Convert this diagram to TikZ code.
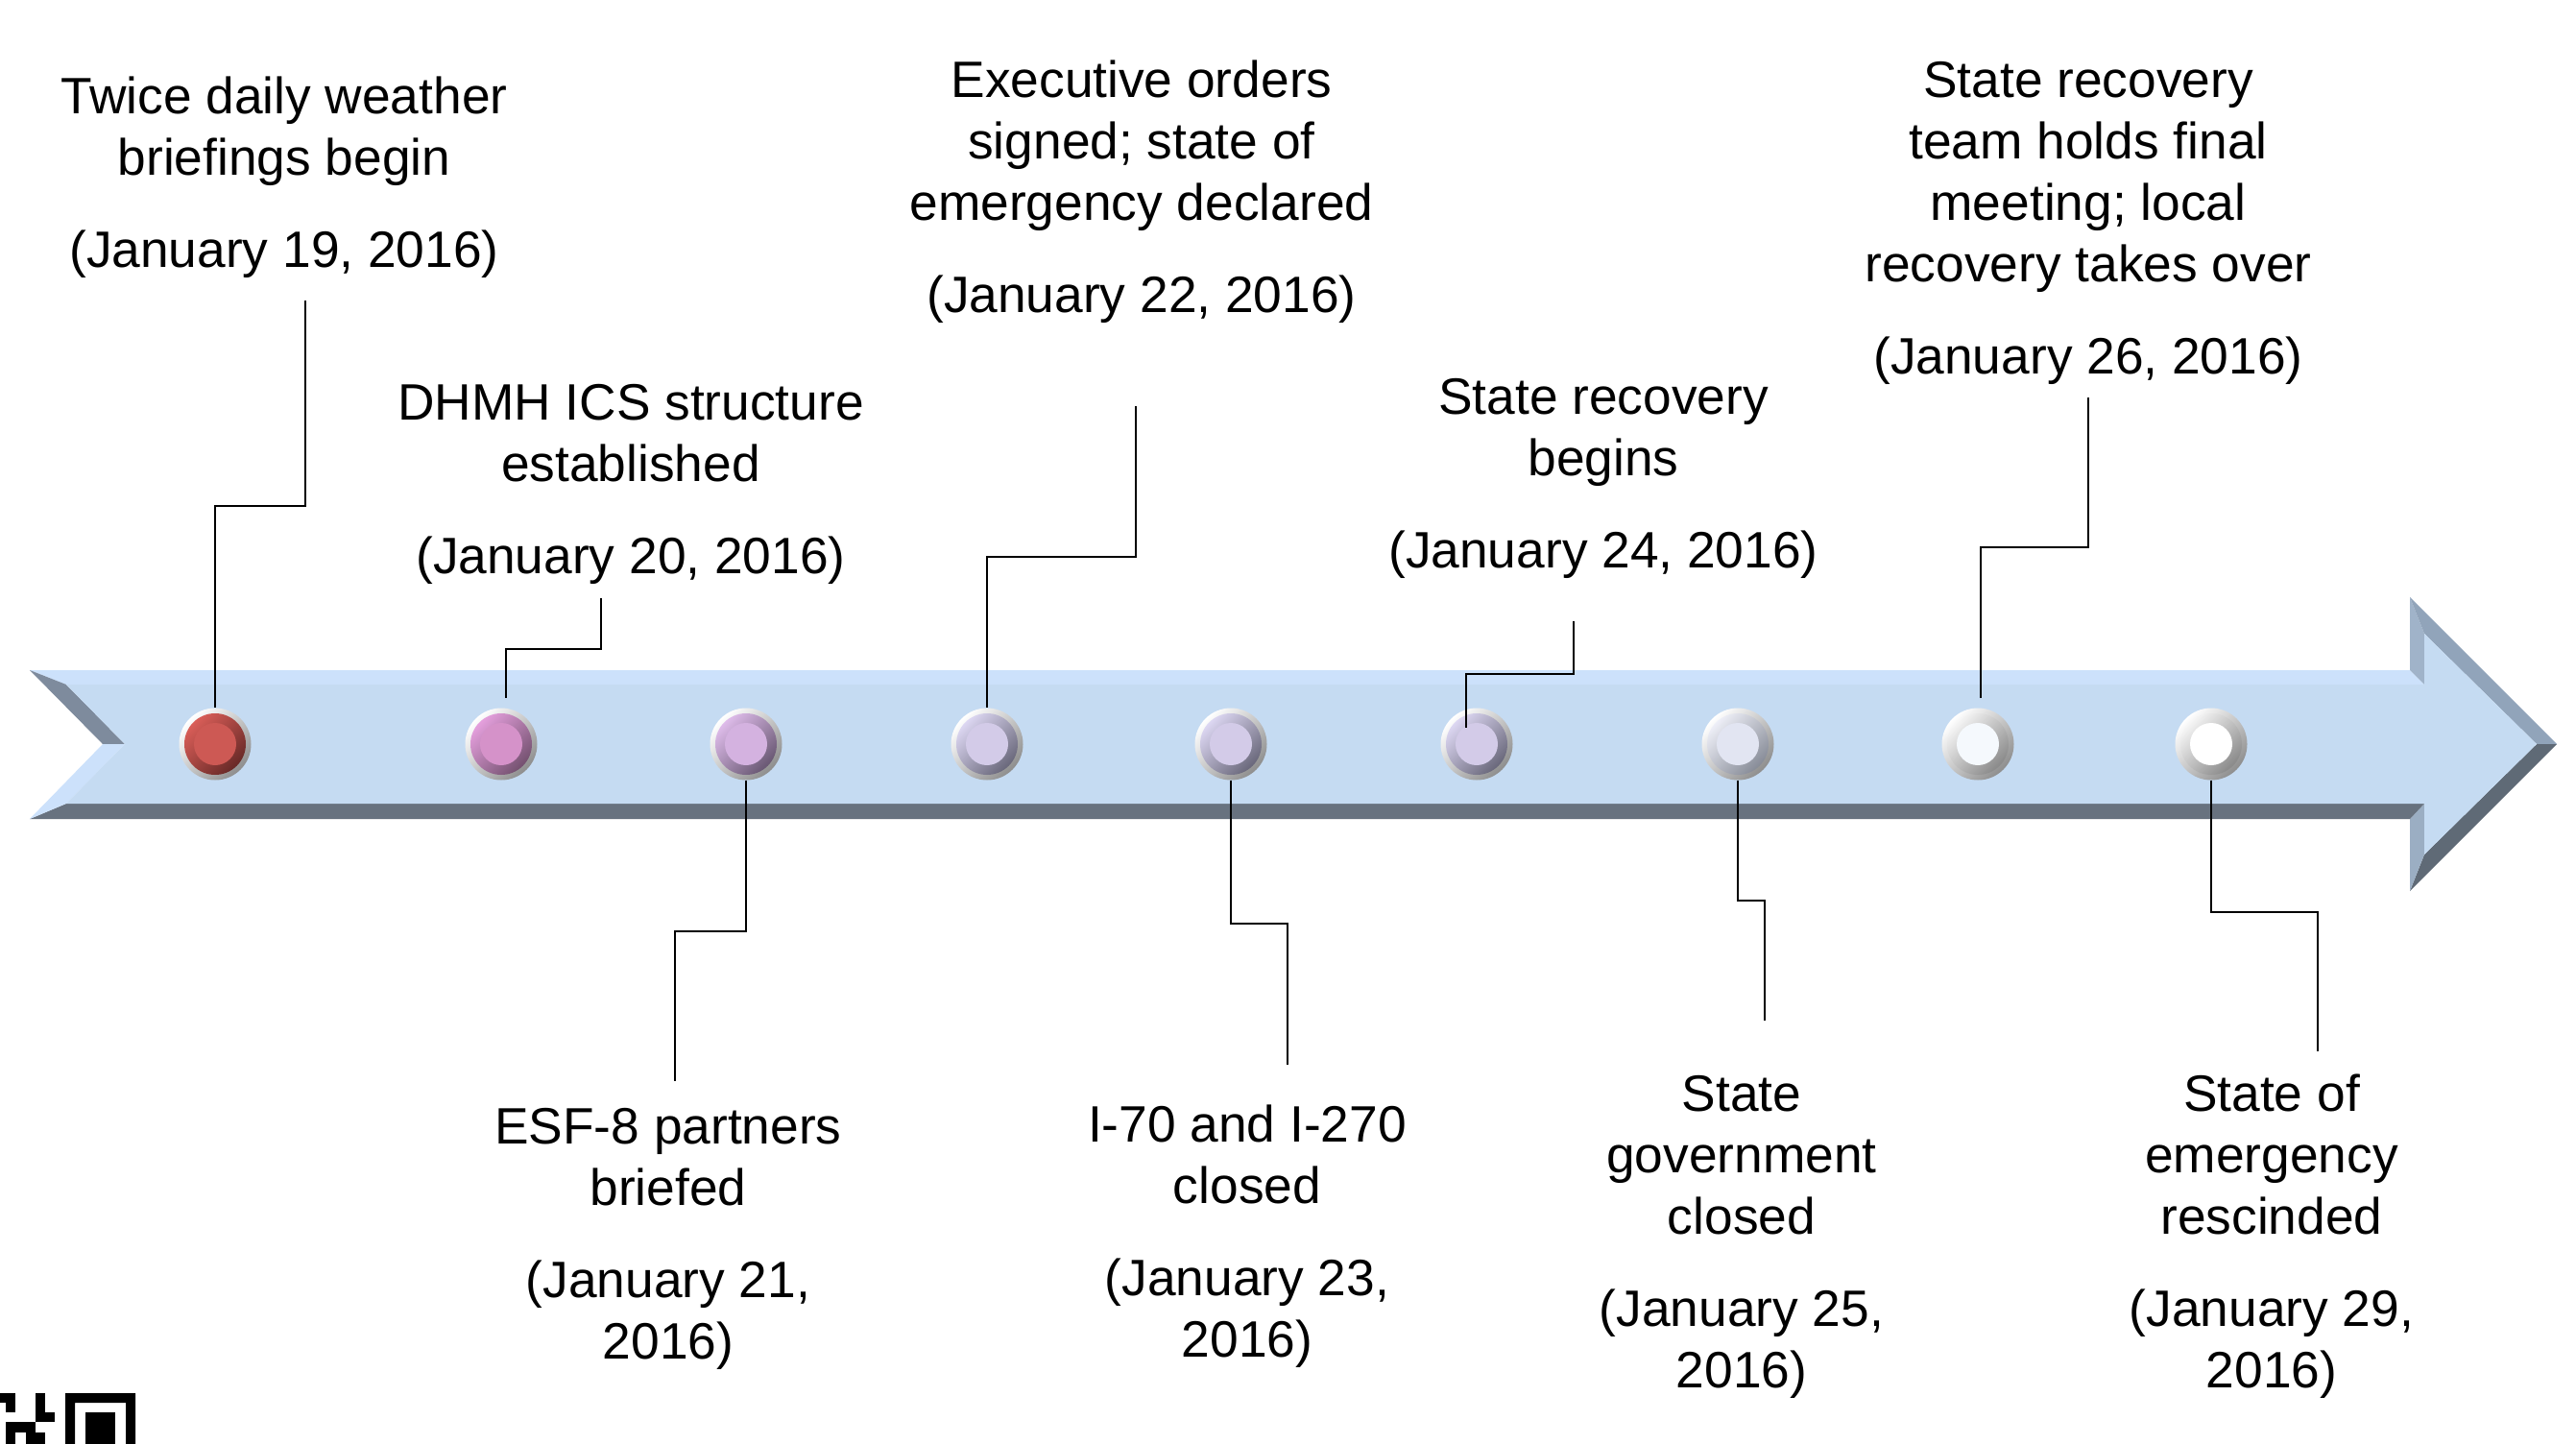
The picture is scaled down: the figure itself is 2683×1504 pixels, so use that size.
\documentclass[tikz,border=0pt]{standalone}
\usepackage{fontspec}
\setmainfont{Liberation Sans}
\definecolor{face}{HTML}{C5DBF2}
\definecolor{bevlight}{HTML}{CCE1FB}
\definecolor{bevdark}{HTML}{68727F}
\definecolor{bevmid}{HTML}{7E8B9D}
\definecolor{headvert}{HTML}{A0B3C9}
\definecolor{headup}{HTML}{91A4BA}
\definecolor{headlow}{HTML}{5F6A76}
\definecolor{rimdark}{HTML}{8E8E8E}
\definecolor{redL}{HTML}{E3625C}\definecolor{redD}{HTML}{5E2523}\definecolor{redI}{HTML}{CD5954}
\definecolor{pinkL}{HTML}{EEA6E6}\definecolor{pinkD}{HTML}{6A4A66}\definecolor{pinkI}{HTML}{D592C9}
\definecolor{purL}{HTML}{E8C4F4}\definecolor{purD}{HTML}{5E4F68}\definecolor{purI}{HTML}{D4B2E0}
\definecolor{lavL}{HTML}{E6E0FC}\definecolor{lavD}{HTML}{5F5E70}\definecolor{lavI}{HTML}{D3CBE8}
\definecolor{palL}{HTML}{F6F7FF}\definecolor{palD}{HTML}{7E838F}\definecolor{palI}{HTML}{E2E5F2}
\definecolor{whL}{HTML}{FFFFFF}\definecolor{whD}{HTML}{808080}\definecolor{whI}{HTML}{F5F9FD}
\definecolor{wwI}{HTML}{FFFFFF}
\tikzset{
  lbl/.style={font=\fontsize{53.3}{64}\selectfont, align=center, inner sep=0pt, anchor=north, text=black},
  dotnode/.style n args={3}{circle, minimum size=75pt, inner sep=0pt,
    top color=white, bottom color=rimdark, shading angle=45,
    path picture={
      \shade[top color=#1, bottom color=#2, shading angle=45]
        (path picture bounding box.center) circle[radius=32pt];
      \fill[#3] (path picture bounding box.center) circle[radius=22pt];
    }},
  conn/.style={draw=black, line width=2.3pt, line cap=butt, line join=miter},
  qr/.style={fill=black}
}
\begin{document}
\begin{tikzpicture}[x=1pt,y=-1pt]
\useasboundingbox (0,0) rectangle (2683,1504);
\fill[white] (0,0) rectangle (2683,1504);

% ---- arrow ----
\fill[bevlight] (31,698) -- (2510,698) -- (2525,713) -- (69,713) -- cycle;
\fill[headvert] (2510,622) -- (2510,698) -- (2525,713) -- (2525,660) -- cycle;
\fill[headup] (2510,622) -- (2663,775) -- (2642,775) -- (2525,660) -- cycle;
\fill[headlow] (2663,775) -- (2510,928) -- (2525,890) -- (2642,775) -- cycle;
\fill[headvert!97!black] (2510,928) -- (2510,853) -- (2525,837) -- (2525,890) -- cycle;
\fill[bevdark] (2510,853) -- (31,853) -- (69,837) -- (2525,837) -- cycle;
\fill[bevmid] (31,698) -- (69,713) -- (130,775) -- (107,775) -- cycle;
\fill[bevlight] (107,775) -- (130,775) -- (69,837) -- (31,853) -- cycle;
\fill[face] (69,713) -- (2525,713) -- (2525,660) -- (2642,775) -- (2525,890)
  -- (2525,837) -- (69,837) -- (130,775) -- cycle;

% ---- dots ----
\node[dotnode={redL}{redD}{redI}] (d1) at (224,775) {};
\node[dotnode={pinkL}{pinkD}{pinkI}] (d2) at (522,775) {};
\node[dotnode={purL}{purD}{purI}] (d3) at (777,775) {};
\node[dotnode={lavL}{lavD}{lavI}] (d4) at (1028,775) {};
\node[dotnode={lavL}{lavD}{lavI}] (d5) at (1282,775) {};
\node[dotnode={lavL}{lavD}{lavI}] (d6) at (1538,775) {};
\node[dotnode={palL}{palD}{palI}] (d7) at (1810,775) {};
\node[dotnode={whL}{whD}{whI}] (d8) at (2060,775) {};
\node[dotnode={whL}{whD}{wwI}] (d9) at (2303,775) {};

% ---- labels ----
\node[lbl] (t1) at (296,73) {\strut Twice daily weather\\\strut briefings begin\\[32pt]\strut (January 19, 2016)};
\node[lbl] (t2) at (657,392) {\strut DHMH ICS structure\\\strut established\\[32pt]\strut (January 20, 2016)};
\node[lbl] (t3) at (696,1146) {\strut ESF-8 partners\\\strut briefed\\[32pt]\strut (January 21,\\\strut 2016)};
\node[lbl] (t4) at (1189,56) {\strut Executive orders\\\strut signed; state of\\\strut emergency declared\\[32pt]\strut (January 22, 2016)};
\node[lbl] (t5) at (1299,1144) {\strut I-70 and I-270\\\strut closed\\[32pt]\strut (January 23,\\\strut 2016)};
\node[lbl] (t6) at (1670,386) {\strut State recovery\\\strut begins\\[32pt]\strut (January 24, 2016)};
\node[lbl] (t7) at (1814,1112) {\strut State\\\strut government\\\strut closed\\[32pt]\strut (January 25,\\\strut 2016)};
\node[lbl] (t8) at (2175,56) {\strut State recovery\\\strut team holds final\\\strut meeting; local\\\strut recovery takes over\\[32pt]\strut (January 26, 2016)};
\node[lbl] (t9) at (2366,1112) {\strut State of\\\strut emergency\\\strut rescinded\\[32pt]\strut (January 29,\\\strut 2016)};

% ---- connector free ends ----
\coordinate (a1) at (318,313);
\coordinate (a2) at (626,623);  \coordinate (b2) at (527,727);
\coordinate (a3) at (703,1126);
\coordinate (a4) at (1183,423);
\coordinate (a5) at (1341,1109);
\coordinate (a6) at (1639,647);  \coordinate (b6) at (1527,758);
\coordinate (a7) at (1838,1063);
\coordinate (a8) at (2175,414);  \coordinate (b8) at (2063,727);
\coordinate (a9) at (2414,1095);

% ---- connectors ----
\draw[conn] (a1) -- (318,527) -| (d1.north);
\draw[conn] (a2) -- (626,676) -| (b2);
\draw[conn] (d3.south) -- (777,970) -| (a3);
\draw[conn] (a4) -- (1183,580) -| (d4.north);
\draw[conn] (d5.south) -- (1282,962) -| (a5);
\draw[conn] (a6) -- (1639,702) -| (b6);
\draw[conn] (d7.south) -- (1810,938) -| (a7);
\draw[conn] (a8) -- (2175,570) -| (b8);
\draw[conn] (d9.south) -- (2303,950) -| (a9);

% ---- QR code fragment ----
\fill[qr] (0,1451) rectangle (16,1461);
\fill[qr] (6,1461) rectangle (16,1471);
\fill[qr] (37,1451) rectangle (47,1481);
\fill[qr] (47,1471) rectangle (57,1481);
\fill[qr] (6,1481) rectangle (37,1492);
\fill[qr] (6,1492) rectangle (16,1504);
\fill[qr] (27,1492) rectangle (47,1504);
\fill[qr, even odd rule] (68,1451) rectangle (141,1514) (78,1461) rectangle (131,1514);
\fill[qr] (89,1471) rectangle (120,1514);
\end{tikzpicture}
\end{document}
